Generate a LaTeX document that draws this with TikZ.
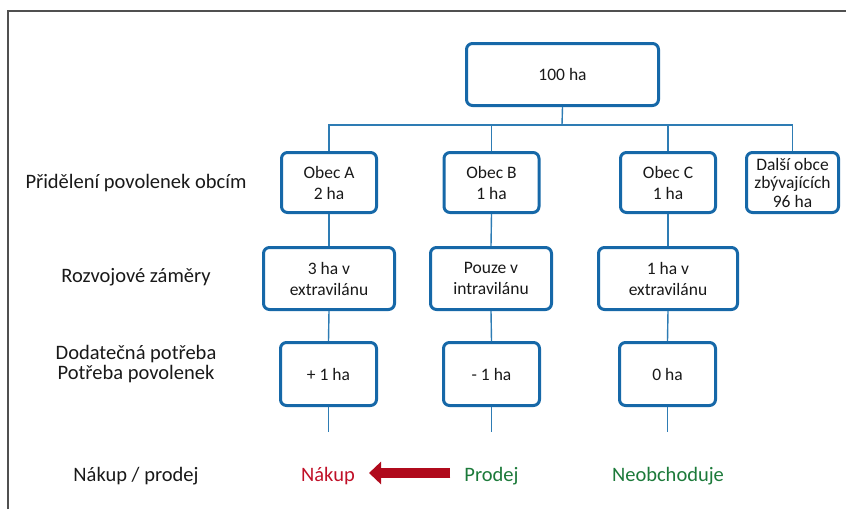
\documentclass[tikz,border=0pt]{standalone}
\usepackage{fontspec}
\setmainfont{Carlito}
\usetikzlibrary{arrows.meta}
\definecolor{boxblue}{RGB}{22,104,168}
\definecolor{linkblue}{RGB}{46,124,180}
\definecolor{txt}{RGB}{25,25,25}
\definecolor{buyred}{RGB}{192,16,40}
\definecolor{arrowred}{RGB}{176,10,28}
\definecolor{sellgreen}{RGB}{28,122,58}
\definecolor{framegray}{RGB}{80,80,80}
\tikzset{
  ubox/.style={draw=boxblue, line width=3pt, rounded corners=6pt, fill=white,
    inner sep=0pt, align=center, text=txt,
    font=\fontsize{17.5}{21}\selectfont},
  link/.style={draw=linkblue, line width=1.4pt},
  rowlabel/.style={inner sep=0pt, align=center, text=txt,
    font=\fontsize{20.5}{19.5}\selectfont},
  trade/.style={inner sep=0pt, font=\fontsize{20.5}{24}\selectfont},
}
\begin{document}
\begin{tikzpicture}[x=1pt,y=-1pt]
\useasboundingbox (0,0) rectangle (846,509);
% frame
\draw[framegray, line width=1.5pt] (8,509) -- (8,11) -- (846,11);

% top
\node[ubox, minimum width=192pt, minimum height=62pt] (top) at (562.5,74.5) {100 ha};
% row 1
\node[ubox, minimum width=95pt, minimum height=60pt] (oa) at (329,182.5) {Obec A\\2 ha};
\node[ubox, minimum width=95pt, minimum height=60pt] (ob) at (491.5,182.5) {Obec B\\1 ha};
\node[ubox, minimum width=95pt, minimum height=60pt] (oc) at (668,182.5) {Obec C\\1 ha};
\node[ubox, minimum width=92pt, minimum height=60pt, font=\fontsize{17.5}{18.5}\selectfont] (od) at (792.5,182.5) {Další obce\\zbývajících\\96 ha};
% row 2
\node[ubox, minimum width=131pt, minimum height=62pt] (ra) at (329,278.5) {3 ha v\\extravilánu};
\node[ubox, minimum width=121pt, minimum height=62pt] (rb) at (491,278.5) {Pouze v\\intravilánu};
\node[ubox, minimum width=139pt, minimum height=62pt] (rc) at (668,278.5) {1 ha v\\extravilánu};
% row 3
\node[ubox, minimum width=96pt, minimum height=63pt] (pa) at (328.5,374) {+ 1 ha};
\node[ubox, minimum width=96pt, minimum height=63pt] (pb) at (491.5,374) {- 1 ha};
\node[ubox, minimum width=96pt, minimum height=63pt] (pc) at (667.5,374) {0 ha};

\coordinate (bus) at (562,125);
\coordinate (ea) at (328.5,432);
\coordinate (eb) at (491.5,432);
\coordinate (ec) at (667.5,432);

% connectors
\draw[link] (top.south) -- (bus);
\draw[link] (oa.north) -- (oa.north |- bus) -- (od.north |- bus) -- (od.north);
\draw[link] (ob.north) -- (ob.north |- bus);
\draw[link] (oc.north) -- (oc.north |- bus);
\draw[link] (oa.south) -- (ra.north);
\draw[link] (ob.south) -- (rb.north);
\draw[link] (oc.south) -- (rc.north);
\draw[link] (ra.south) -- (pa.north);
\draw[link] (rb.south) -- (pb.north);
\draw[link] (rc.south) -- (pc.north);
\draw[link] (pa.south) -- (ea);
\draw[link] (pb.south) -- (eb);
\draw[link] (pc.south) -- (ec);

% row labels
\node[rowlabel] (l1) at (136,183) {Přidělení povolenek obcím};
\node[rowlabel] (l2) at (136,277) {Rozvojové záměry};
\node[rowlabel] (l3) at (136,364) {Dodatečná potřeba\\Potřeba povolenek};
\node[rowlabel] (l4) at (136,476) {Nákup / prodej};

% trade row
\node[trade, text=buyred] (nak) at (328,476) {Nákup};
\node[trade, text=sellgreen] (pro) at (491.5,476) {Prodej};
\node[trade, text=sellgreen] (neo) at (668,476) {Neobchoduje};
\draw[arrowred, line width=10pt, -{Triangle[length=12pt,width=22pt]},
  shorten <=14pt, shorten >=14pt] (pro.west |- 0,473) -- (nak.east |- 0,473);
\end{tikzpicture}
\end{document}
